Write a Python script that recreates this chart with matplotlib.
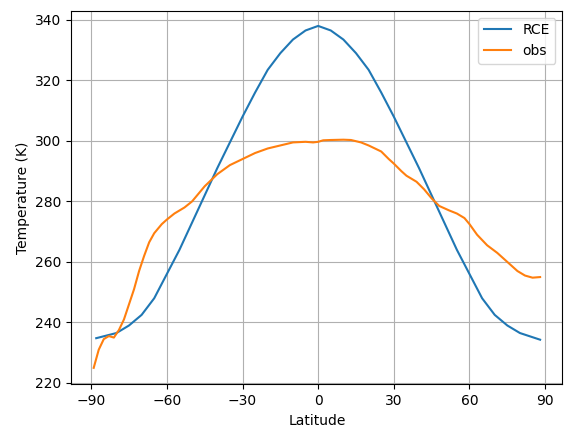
import matplotlib
matplotlib.use("Agg")
import matplotlib.pyplot as plt
import numpy as np

rce_lat = [-88, -80, -75, -70, -65, -60, -55, -50, -45, -40, -35, -30, -25, -20, -15, -10, -5, 0,
           5, 10, 15, 20, 25, 30, 35, 40, 45, 50, 55, 60, 65, 70, 75, 80, 88]
rce_temp = [234.8, 236.5, 239, 242.5, 248, 256, 264, 273, 282, 291, 299.5, 308, 316, 323.5, 329,
            333.5, 336.5, 338, 336.5, 333.5, 329, 323.5, 316, 308, 299.5, 291, 282, 273, 264,
            256, 248, 242.5, 239, 236.5, 234.3]

obs_lat = [-89, -87, -85, -83, -81, -79, -77, -75, -73, -71, -69, -67, -65, -62, -60, -57, -53, -50,
           -45, -40, -35, -30, -25, -20, -15, -10, -5, -2, 0, 2, 5, 10, 13, 17, 20, 25, 28, 30, 33,
           35, 37, 39, 42, 45, 48, 52, 55, 58, 60, 63, 67, 71, 75, 79, 82, 85, 88]
obs_temp = [225, 231, 234.5, 235.5, 235, 237.5, 241, 246, 251, 257, 262, 266.5, 269.5, 272.5, 274,
            276, 278, 280, 285, 289, 292, 294, 296, 297.5, 298.5, 299.5, 299.7, 299.5, 299.7,
            300.2, 300.3, 300.4, 300.3, 299.5, 298.5, 296.5, 294, 292.5, 290, 288.5, 287.5, 286.5,
            284, 281, 278.5, 277, 276, 274.5, 272.5, 269, 265.5, 263, 260, 257, 255.5, 254.8, 255]

fig, ax = plt.subplots(figsize=(5.71, 4.32), dpi=100)
ax.plot(rce_lat, rce_temp, label="RCE")
ax.plot(obs_lat, obs_temp, label="obs")
ax.set_xticks(np.arange(-90, 91, 30))
ax.set_ylim(219.5, 343)
ax.set_xlabel("Latitude")
ax.set_ylabel("Temperature (K)")
ax.grid(True)
ax.legend(loc="upper right")
fig.subplots_adjust(left=0.125, right=0.985, top=0.975, bottom=0.11)
fig.savefig("out.png")
